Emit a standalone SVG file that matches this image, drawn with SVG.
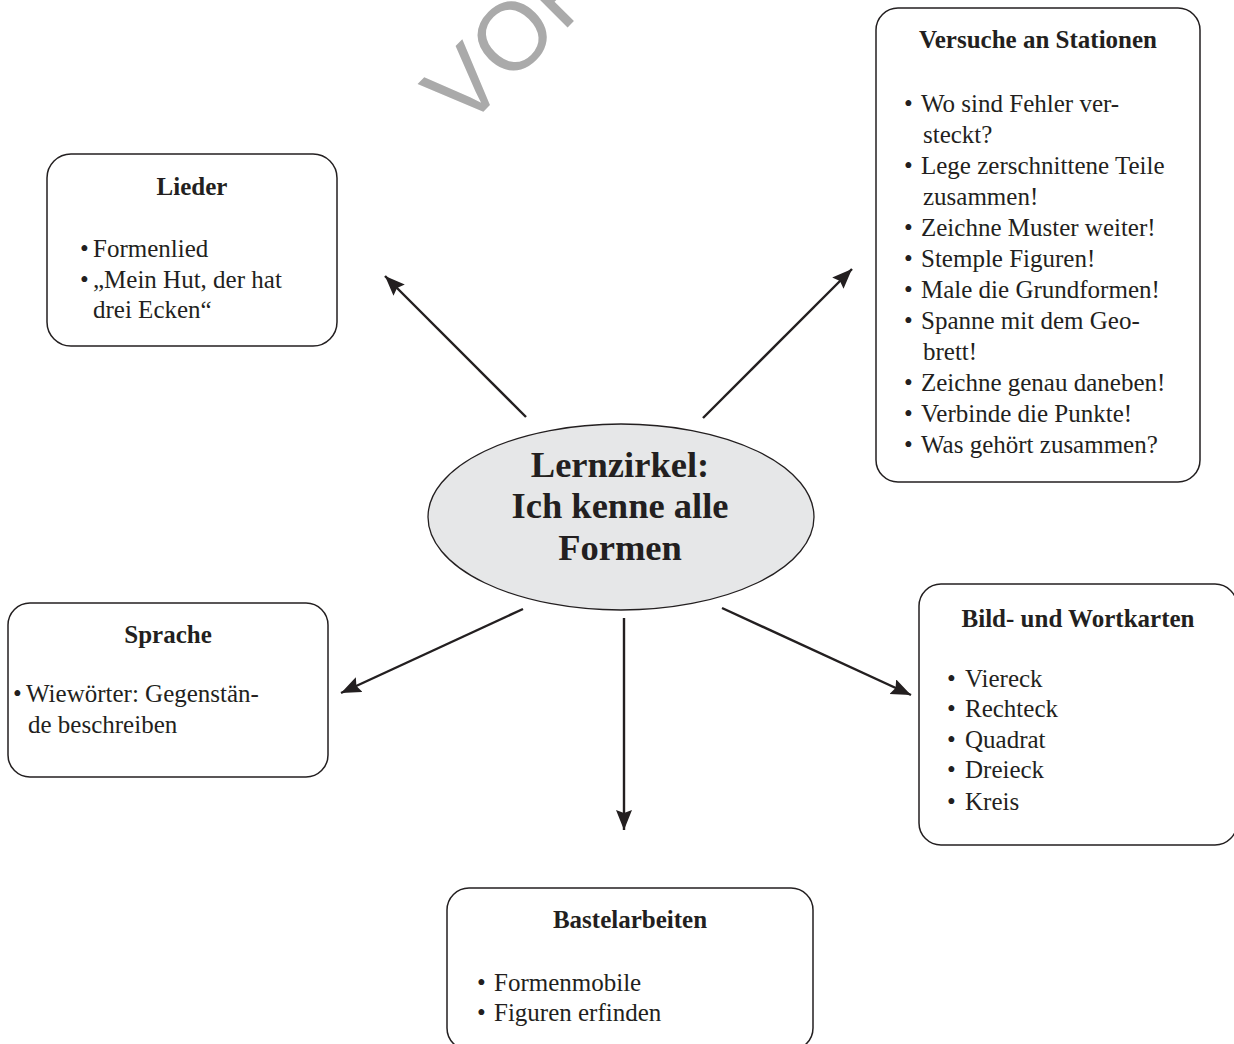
<svg xmlns="http://www.w3.org/2000/svg" width="1234" height="1044" viewBox="0 0 1234 1044">
<style>
.box{fill:#ffffff;stroke:#231f20;stroke-width:1.5}
.t{font-family:"Liberation Serif","Times New Roman",serif;font-size:25px;fill:#231f20}
.h{font-family:"Liberation Serif","Times New Roman",serif;font-size:25px;font-weight:bold;fill:#231f20;text-anchor:middle}
.c{font-family:"Liberation Serif","Times New Roman",serif;font-size:36.5px;font-weight:bold;fill:#231f20;text-anchor:middle}
.con{stroke:#231f20;stroke-width:2.4;fill:none;marker-end:url(#ah)}
.wm{font-family:"Liberation Sans",Arial,sans-serif;font-size:96px;fill:#aaaaaa}
</style>
<defs>
<marker id="ah" markerUnits="userSpaceOnUse" markerWidth="22" markerHeight="18" refX="20" refY="8" orient="auto">
<path d="M0,0 L20,8 L0,16 L3,8 z" fill="#231f20"/>
</marker>
</defs>
<rect width="1234" height="1044" fill="#ffffff"/>
<text class="wm" transform="translate(464,131) rotate(-45)">VOR</text>

<g id="connectors">
<line class="con" x1="526" y1="417" x2="385" y2="276"/>
<line class="con" x1="703" y1="418" x2="852" y2="269"/>
<line class="con" x1="523" y1="609" x2="341" y2="693"/>
<line class="con" x1="624" y1="618" x2="624" y2="830"/>
<line class="con" x1="722" y1="608" x2="911" y2="695"/>
</g>

<g id="center">
<ellipse cx="621" cy="517" rx="193" ry="93" fill="#e6e7e8" stroke="#231f20" stroke-width="1.3"/>
<text class="c" x="620" y="477">Lernzirkel:</text>
<text class="c" x="620" y="518">Ich kenne alle</text>
<text class="c" x="620" y="560">Formen</text>
</g>

<g id="lieder">
<rect class="box" x="47" y="154" width="290" height="192" rx="24"/>
<text class="h" x="192" y="195">Lieder</text>
<text class="t" y="257"><tspan x="80">•</tspan><tspan x="93">Formenlied</tspan></text>
<text class="t" y="288"><tspan x="80">•</tspan><tspan x="93">„Mein Hut, der hat</tspan></text>
<text class="t" x="93" y="318">drei Ecken“</text>
</g>

<g id="versuche">
<rect class="box" x="876" y="8" width="324" height="474" rx="22"/>
<text class="h" x="1038" y="48">Versuche an Stationen</text>
<text class="t" y="112"><tspan x="904">•</tspan><tspan x="921">Wo sind Fehler ver-</tspan></text>
<text class="t" x="923" y="143">steckt?</text>
<text class="t" y="174"><tspan x="904">•</tspan><tspan x="921">Lege zerschnittene Teile</tspan></text>
<text class="t" x="923" y="205">zusammen!</text>
<text class="t" y="236"><tspan x="904">•</tspan><tspan x="921">Zeichne Muster weiter!</tspan></text>
<text class="t" y="267"><tspan x="904">•</tspan><tspan x="921">Stemple Figuren!</tspan></text>
<text class="t" y="298"><tspan x="904">•</tspan><tspan x="921">Male die Grundformen!</tspan></text>
<text class="t" y="329"><tspan x="904">•</tspan><tspan x="921">Spanne mit dem Geo-</tspan></text>
<text class="t" x="923" y="360">brett!</text>
<text class="t" y="391"><tspan x="904">•</tspan><tspan x="921">Zeichne genau daneben!</tspan></text>
<text class="t" y="422"><tspan x="904">•</tspan><tspan x="921">Verbinde die Punkte!</tspan></text>
<text class="t" y="453"><tspan x="904">•</tspan><tspan x="921">Was gehört zusammen?</tspan></text>
</g>

<g id="sprache">
<rect class="box" x="8" y="603" width="320" height="174" rx="22"/>
<text class="h" x="168" y="643">Sprache</text>
<text class="t" y="702"><tspan x="13">•</tspan><tspan x="26">Wiewörter: Gegenstän-</tspan></text>
<text class="t" x="28" y="733">de beschreiben</text>
</g>

<g id="bild">
<rect class="box" x="919" y="584" width="318" height="261" rx="22"/>
<text class="h" x="1078" y="627">Bild- und Wortkarten</text>
<text class="t" y="687"><tspan x="947">•</tspan><tspan x="965">Viereck</tspan></text>
<text class="t" y="717"><tspan x="947">•</tspan><tspan x="965">Rechteck</tspan></text>
<text class="t" y="748"><tspan x="947">•</tspan><tspan x="965">Quadrat</tspan></text>
<text class="t" y="778"><tspan x="947">•</tspan><tspan x="965">Dreieck</tspan></text>
<text class="t" y="810"><tspan x="947">•</tspan><tspan x="965">Kreis</tspan></text>
</g>

<g id="bastel">
<rect class="box" x="447" y="888" width="366" height="162" rx="22"/>
<text class="h" x="630" y="928">Bastelarbeiten</text>
<text class="t" y="991"><tspan x="477">•</tspan><tspan x="494">Formenmobile</tspan></text>
<text class="t" y="1021"><tspan x="477">•</tspan><tspan x="494">Figuren erfinden</tspan></text>
</g>
</svg>
